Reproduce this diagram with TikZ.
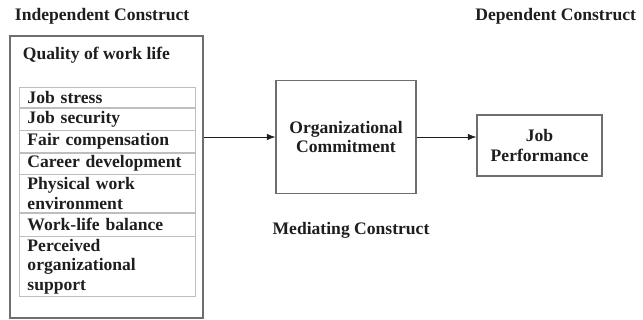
\documentclass[tikz,border=0pt]{standalone}
\usepackage{fontspec}
\setmainfont{Liberation Serif}
\usetikzlibrary{arrows.meta, positioning, calc}
\definecolor{framegray}{RGB}{110, 110, 110}
\definecolor{rowgray}{RGB}{190, 190, 190}
\definecolor{inkgray}{RGB}{30, 30, 30}

\begin{document}
\begin{tikzpicture}[
          x=0.025cm, y=-0.025cm,
          every node/.style={text=inkgray,
                     font=\fontsize{12.5}{14}\selectfont\bfseries},
          box/.style={draw=framegray, line width=0.8pt,
                     align=center, inner sep=0pt},
          row/.style={draw=rowgray, line width=0.4pt,
                     text width=4.0cm, align=left,
                     inner xsep=0.2cm, inner ysep=0pt,
                     anchor=north},
          link/.style={line width=0.6pt, color=inkgray,
                     -{Latex[length=6pt, width=4.5pt]}},
      ]
      \useasboundingbox (0, 0) rectangle (643, 320);
      % heading texts
      \node[anchor=west] (indep) at (10, 16) {Independent Construct};
      \node[anchor=east] (dep) at (641, 16) {Dependent Construct};
      \node (med) at (351, 230) {Mediating Construct};
      % independent construct
      \node[box, minimum width=4.825cm, minimum height=7.05cm]
          (qwl) at (106.5, 177) {};
      \node[anchor=west] (qwltitle) at (18, 55) {Quality of work life};
      \node[row, minimum height=0.5cm] (r1)
          at (107.5, 87) {Job stress};
      \node[row, minimum height=0.55cm, below=0pt of r1] (r2)
          {Job security};
      \node[row, minimum height=0.55cm, below=0pt of r2] (r3)
          {Fair compensation};
      \node[row, minimum height=0.525cm, below=0pt of r3] (r4)
          {Career development};
      \node[row, minimum height=0.95cm, below=0pt of r4] (r5)
          {Physical work\\environment};
      \node[row, minimum height=0.575cm, below=0pt of r5] (r6)
          {Work-life balance};
      \node[row, minimum height=1.5cm, below=0pt of r6] (r7)
          {Perceived\\organizational\\support};
      % mediator and outcome
      \node[box, minimum width=3.5cm, minimum height=2.825cm]
          (oc) at (346, 137) {Organizational\\Commitment};
      \node[box, minimum width=3.125cm, minimum height=1.525cm]
          (jp) at (539.5, 145.5) {Job\\Performance};
      \draw[link] (qwl.east |- oc.west) -- (oc.west);
      \draw[link] (oc.east) -- (oc.east -| jp.west);
      \end{tikzpicture}
\end{document}
